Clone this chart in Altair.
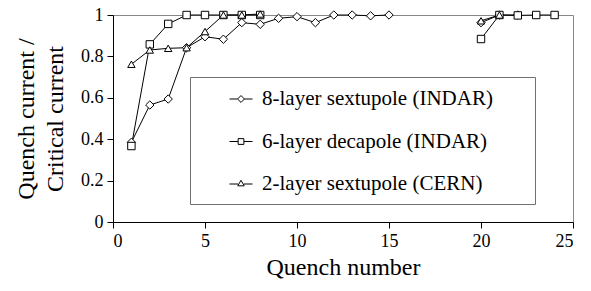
import altair as alt
import pandas as pd

series_names = ["8-layer sextupole (INDAR)", "6-layer decapole  (INDAR)", "2-layer sextupole (CERN)"]

x_sext8 = [1, 2, 3, 4, 5, 6, 7, 8, 9, 10, 11, 12, 13, 14, 15, 20, 21, 22]
y_sext8 = [0.385, 0.565, 0.594, 0.842, 0.895, 0.883, 0.963, 0.955, 0.984, 0.992, 0.963, 1.0, 1.0, 0.996, 1.0, 0.963, 1.0, 1.0]
seg_sext8 = [0] * 15 + [1] * 3

x_deca6 = [1, 2, 3, 4, 5, 6, 7, 8, 20, 21, 22, 23, 24]
y_deca6 = [0.367, 0.858, 0.957, 1.0, 1.0, 1.0, 1.0, 1.0, 0.884, 1.0, 0.998, 1.0, 1.0]
seg_deca6 = [0] * 8 + [1] * 5

x_sext2 = [1, 2, 3, 4, 5, 6, 7, 8, 20, 21]
y_sext2 = [0.762, 0.831, 0.839, 0.842, 0.92, 1.0, 1.0, 1.005, 0.972, 1.0]
seg_sext2 = [0] * 8 + [1] * 2

x_ticks = [0, 5, 10, 15, 20, 25]
y_ticks = [0, 0.2, 0.4, 0.6, 0.8, 1.0]

rows = []
for name, xs, ys, segs in [
    (series_names[0], x_sext8, y_sext8, seg_sext8),
    (series_names[1], x_deca6, y_deca6, seg_deca6),
    (series_names[2], x_sext2, y_sext2, seg_sext2),
]:
    for xv, yv, sv in zip(xs, ys, segs):
        rows.append({"series": name, "x": xv, "y": yv, "seg": f"{name}-{sv}"})
df = pd.DataFrame(rows)

FONT = "Liberation Serif"

x_enc = alt.X("x:Q", scale=alt.Scale(domain=[0, 25], nice=False),
              axis=alt.Axis(values=x_ticks, title="Quench number", grid=False,
                            tickSize=6, labelPadding=4, titlePadding=5))
y_enc = alt.Y("y:Q", scale=alt.Scale(domain=[0, 1], nice=False),
              axis=alt.Axis(values=y_ticks, format="~g",
                            title=["Quench current /", "Critical current"],
                            grid=False, tickSize=6, labelPadding=4, titlePadding=13))

marker_shapes = ["diamond", "square", "triangle-up"]
marker_sizes = {"diamond": 70, "square": 55, "triangle-up": 55}

lines = alt.Chart(df).mark_line(color="black", strokeWidth=1).encode(
    x=x_enc, y=y_enc, detail="seg:N"
)

points_layers = []
for name, shp in zip(series_names, marker_shapes):
    points_layers.append(
        alt.Chart(df).transform_filter(alt.datum.series == name).mark_point(
            shape=shp, filled=True, fill="white", stroke="black", strokeWidth=1,
            size=marker_sizes[shp], opacity=1
        ).encode(x="x:Q", y="y:Q")
    )

legend_paths = [
    "M-1,0H-0.3M0.3,0H1M0,-0.3L0.3,0L0,0.3L-0.3,0Z",
    "M-1,0H-0.25M0.25,0H1M-0.25,-0.25H0.25V0.25H-0.25Z",
    "M-1,0H-0.26M0.26,0H1M0,-0.32L0.28,0.16L-0.28,0.16Z",
]

TRAIL = " " * 6 + "\u200b"

legend_layer = alt.Chart(df).transform_filter("false").mark_point(
    filled=False, color="black", stroke="black", strokeWidth=1, size=529, opacity=1
).encode(
    x="x:Q", y="y:Q",
    shape=alt.Shape("series:N",
                    scale=alt.Scale(domain=series_names, range=legend_paths),
                    legend=alt.Legend(
                        title=None, orient="none", legendX=77, legendY=62,
                        strokeColor="#707070", fillColor="white", padding=10,
                        symbolOffset=29, symbolSize=529, symbolStrokeWidth=1,
                        symbolFillColor="white", symbolStrokeColor="black",
                        symbolOpacity=1,
                        labelFont=FONT, labelFontSize=21, labelColor="black",
                        labelOffset=9, rowPadding=20.5, labelLimit=500,
                        labelExpr=f"datum.label + '{TRAIL}'",
                    ))
)

chart = alt.layer(lines, *points_layers, legend_layer).properties(
    width=460, height=207,
    autosize=alt.AutoSizeParams(type="none"),
    padding={"left": 105, "top": 7, "right": 10, "bottom": 60},
).configure_view(
    stroke="#888888", strokeWidth=1
).configure_axis(
    domainColor="black", tickColor="black", labelColor="black", titleColor="black",
    labelFont=FONT, titleFont=FONT, labelFontSize=18, titleFontSize=24,
    titleFontWeight="normal", domainWidth=1, tickWidth=1, titleLineHeight=29
)

chart.save("out.html", embed_options={"renderer": "svg", "actions": False})
